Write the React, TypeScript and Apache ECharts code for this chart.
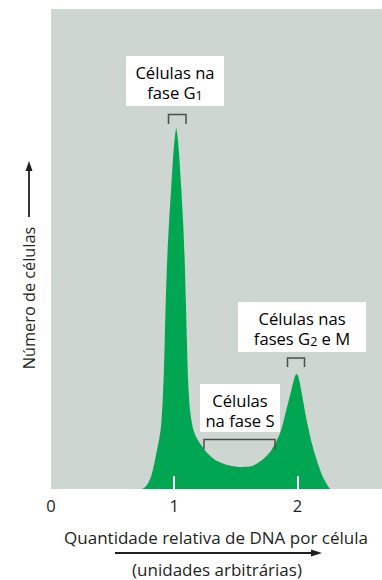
import React, { useEffect, useRef } from "react";
import * as echarts from "echarts";

// Relative DNA content per cell (arbitrary units)
const dnaX = [
  0.741, 0.765, 0.789, 0.814, 0.838, 0.862, 0.878, 0.891, 0.899, 0.907, 0.915, 0.923,
  0.931, 0.939, 0.947, 0.959, 0.976, 0.992, 1.004, 1.016, 1.028, 1.041, 1.057, 1.073,
  1.085, 1.095, 1.103, 1.110, 1.118, 1.126, 1.138, 1.154, 1.178, 1.219, 1.268, 1.333,
  1.430, 1.535, 1.633, 1.714, 1.779, 1.827, 1.860, 1.884, 1.908, 1.933, 1.953, 1.969,
  1.981, 1.994, 2.006, 2.018, 2.034, 2.050, 2.067, 2.087, 2.119, 2.157, 2.200, 2.238,
  2.265,
];
// Number of cells (arbitrary units)
const cellCount = [
  0, 2, 6, 13, 25, 40, 50, 60, 72, 89, 112, 145,
  185, 215, 240, 268, 302, 333, 350, 361, 352, 333, 302, 266,
  230, 189, 150, 118, 97, 82, 70, 60, 52, 44, 36, 29,
  24, 22, 23, 29, 37, 47, 56, 66, 78, 90, 100, 108,
  113, 115, 113, 107, 97, 86, 74, 62, 45, 29, 14, 5,
  0,
];
const xTickLabels = [0, 1, 2];
const xTickMarks = [1, 2];

const FONT = "Open Sans";
const TXT = "#231f20";
const GREEN = "#00a651";
const BG = "#cdd6d1";
const BRACKET = "#4d4d4d";
const FS = 17;
const FS_BOX = 16.6;

export default function App() {
  const ref = useRef<HTMLDivElement>(null);
  useEffect(() => {
    document.body.style.margin = "0";
    const chart = echarts.init(ref.current!, null, { renderer: "svg" });
    const richT = { fontSize: FS_BOX, lineHeight: 19, fontFamily: FONT, color: TXT };
    const richS = { fontSize: 12.5, lineHeight: 13, fontFamily: FONT, color: TXT, verticalAlign: "bottom" };
    const bracket = (x1: number, x2: number, y1: number, y2: number) => ({
      type: "polyline",
      shape: { points: [[x1, y2], [x1, y1], [x2, y1], [x2, y2]] },
      style: { stroke: BRACKET, lineWidth: 1.5, fill: null },
      z: 20,
    });
    const box = (x: number, y: number, w: number, h: number) => ({
      type: "rect",
      shape: { x, y, width: w, height: h },
      style: { fill: "#ffffff" },
      z: 20,
    });
    const line = (x: number, y: number, text: string) => ({
      type: "text",
      x,
      y,
      z: 21,
      style: {
        text,
        align: "center",
        verticalAlign: "middle",
        rich: { t: richT, s: richS },
      },
    });
    const plain = (x: number, y: number, text: string, rotation = 0, fs = FS) => ({
      type: "text",
      x,
      y,
      rotation,
      style: {
        text,
        align: "center",
        verticalAlign: "middle",
        fontSize: fs,
        fontFamily: FONT,
        fill: TXT,
      },
    });
    chart.setOption({
      animation: false,
      grid: {
        left: 51,
        right: 0,
        top: 9,
        bottom: 91,
        show: true,
        backgroundColor: BG,
        borderWidth: 0,
      },
      xAxis: {
        type: "value",
        min: 0,
        max: 2.687,
        interval: 1,
        z: 10,
        axisLine: { show: false },
        splitLine: { show: false },
        axisTick: {
          show: true,
          inside: true,
          length: 13,
          customValues: xTickMarks,
          lineStyle: { color: "#ffffff", width: 2 },
        },
        axisLabel: {
          customValues: xTickLabels,
          margin: 8,
          fontSize: 16.5,
          fontFamily: FONT,
          color: TXT,
          formatter: (v: number) => String(v),
        },
      },
      yAxis: {
        type: "value",
        min: 0,
        max: 480,
        show: false,
        splitLine: { show: false },
      },
      series: [
        {
          type: "line",
          data: dnaX.map((x, i) => [x, cellCount[i]]),
          smooth: 0.2,
          symbol: "none",
          lineStyle: { width: 0 },
          areaStyle: { color: GREEN, opacity: 1 },
          z: 2,
        },
      ],
      graphic: [
        box(126, 56, 98, 50),
        line(175, 72.7, "{t|Células na}"),
        line(175, 92.3, "{t|fase G}{s|1}"),
        bracket(168.5, 186, 114.5, 124),
        box(238, 302, 128, 50),
        line(302, 318.7, "{t|Células nas}"),
        line(302, 338.3, "{t|fases G}{s|2}{t| e M}"),
        bracket(287.5, 304.5, 358, 367),
        box(200, 384, 80, 48),
        line(240, 400.7, "{t|Células}"),
        line(240, 420.3, "{t|na fase S}"),
        bracket(204, 275, 439.5, 449),
        plain(29, 298, "Número de células", Math.PI / 2, 16.3),
        {
          type: "line",
          shape: { x1: 29, y1: 217, x2: 29, y2: 168 },
          style: { stroke: TXT, lineWidth: 1.8 },
        },
        {
          type: "polygon",
          shape: { points: [[29, 161], [25.5, 171], [32.5, 171]] },
          style: { fill: TXT },
        },
        plain(216, 537, "Quantidade relativa de DNA por célula"),
        {
          type: "line",
          shape: { x1: 115, y1: 553, x2: 314, y2: 553 },
          style: { stroke: TXT, lineWidth: 1.8 },
        },
        {
          type: "polygon",
          shape: { points: [[322, 553], [311, 549.5], [311, 556.5]] },
          style: { fill: TXT },
        },
        plain(217, 569.5, "(unidades arbitrárias)"),
      ],
    });
    return () => chart.dispose();
  }, []);
  return <div ref={ref} style={{ width: 382, height: 580 }} />;
}
